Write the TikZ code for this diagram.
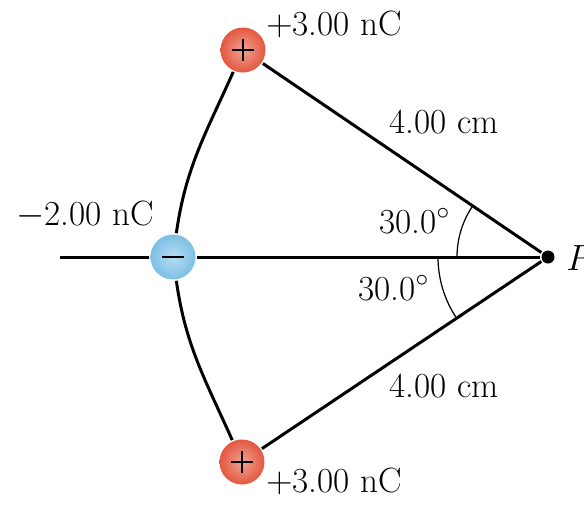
\documentclass[tikz,border=0pt]{standalone}
\usetikzlibrary{positioning}
\definecolor{cred}{HTML}{E4573F}
\definecolor{cblue}{HTML}{7CC0E4}
\tikzset{
  every picture/.style={line width=1.7pt},
  charge/.style={circle, minimum size=0.9cm, inner sep=0pt, inner color=#1!55!white, outer color=#1},
  poscharge/.style={charge=cred, path picture={\draw[line width=0.7pt] (path picture bounding box.center) +(-0.22,0) -- +(0.22,0) +(0,-0.22) -- +(0,0.22);}},
  negcharge/.style={charge=cblue, path picture={\draw[line width=0.7pt] (path picture bounding box.center) +(-0.22,0) -- +(0.22,0);}},
  lbl/.style={font=\fontsize{20}{24}\selectfont, inner sep=0pt, anchor=base west},
  anglearc/.style={line width=0.7pt},
}
\begin{document}
\begin{tikzpicture}
  \useasboundingbox (0,0) rectangle (11.68,-10.12);
  % charges and the field point
  \node[poscharge] (up) at (4.86,-1.00) {};
  \node[negcharge] (neg) at (3.46,-5.14) {};
  \node[poscharge] (down) at (4.84,-9.24) {};
  \node[circle, fill=black, minimum size=0.26cm, inner sep=0pt] (P) at (10.96,-5.14) {};
  \coordinate (axis) at (1.20,-5.14);
  % lines
  \draw (axis) -- (neg) -- (P);
  \draw (up) -- (P) -- (down);
  \draw (up) to[out=246, in=82] (neg);
  \draw (neg) to[out=278, in=114] (down);
  % angle marks
  \draw[anglearc] (P.center) ++(180:1.82) arc[start angle=180, end angle=145.8, radius=1.82];
  \draw[anglearc] (P.center) ++(180:2.2) arc[start angle=180, end angle=213.8, radius=2.2];
  % labels
  \node[lbl] (qup) at (5.30,-0.70) {$+$3.00 nC};
  \node[lbl] (dup) at (7.76,-2.66) {4.00 cm};
  \node[lbl] (qneg) at (0.30,-4.50) {$-$2.00 nC};
  \node[lbl] (aup) at (7.56,-4.66) {30.0$^\circ$};
  \node[lbl] (lblP) at (11.30,-5.40) {$P$};
  \node[lbl] (adown) at (7.14,-6.00) {30.0$^\circ$};
  \node[lbl] (ddown) at (7.76,-7.94) {4.00 cm};
  \node[lbl] (qdown) at (5.30,-9.84) {$+$3.00 nC};
\end{tikzpicture}
\end{document}
